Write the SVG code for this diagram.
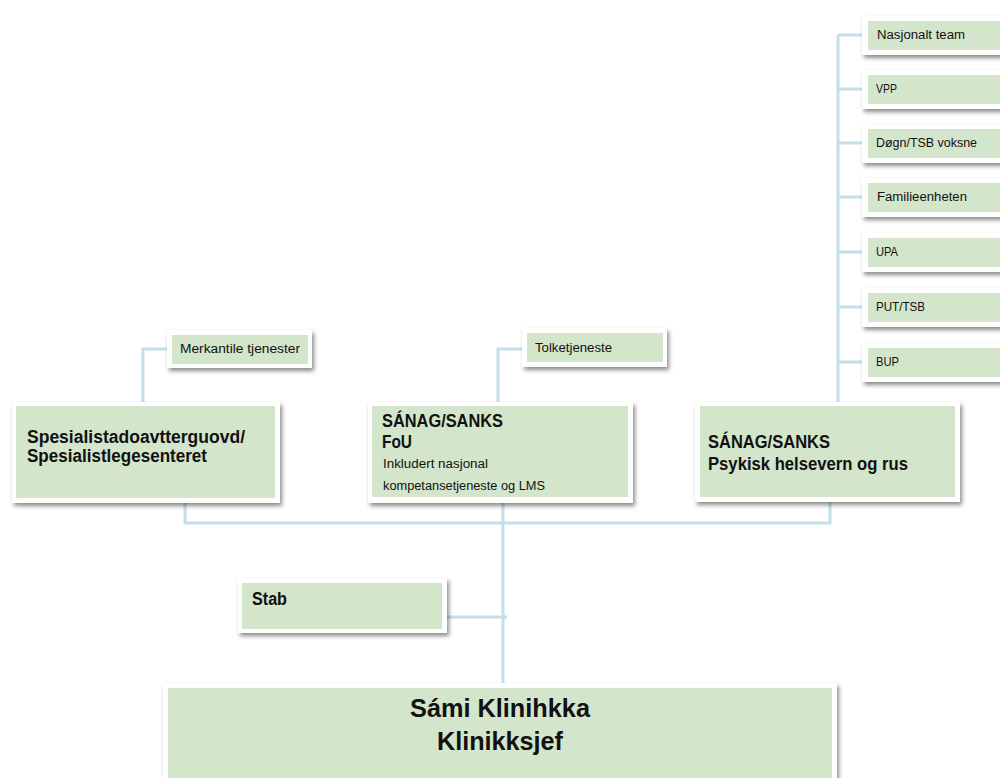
<svg xmlns="http://www.w3.org/2000/svg" width="1000" height="778" viewBox="0 0 1000 778">
<defs>
<filter id="sh" x="-10%" y="-20%" width="130%" height="150%">
<feDropShadow dx="2" dy="3" stdDeviation="2" flood-color="#000" flood-opacity="0.45"/>
</filter>
<style>
.o{fill:#fff;filter:url(#sh)}
.g{fill:#d3e5cb}
.c{stroke:#c3e0ea;stroke-width:3;fill:none}
text{font-family:"Liberation Sans",Arial,sans-serif;fill:#111}
.s{font-size:12.5px}
.b{font-size:17.5px;font-weight:bold}
.t{font-size:26px;font-weight:bold;text-anchor:middle}
</style>
</defs>
<rect width="1000" height="778" fill="#fff"/>
<g id="connectors">
<path class="c" d="M838 35 V402 M838 35 H862 M838 89 H862 M838 143 H862 M838 197 H862 M838 252 H862 M838 307 H862 M838 362 H862"/>
<path class="c" d="M143 402 V349 H167"/>
<path class="c" d="M498 402 V349 H522"/>
<path class="c" d="M185 503 V523 H830 V502 M503 503 V685 M447 617 H507"/>
</g>
<g id="n-nasjonalt"><rect class="o" x="862" y="16" width="145" height="39"/><rect class="g" x="868" y="21" width="140" height="29"/><text class="s" x="877" y="39" textLength="88" lengthAdjust="spacingAndGlyphs">Nasjonalt team</text></g>
<g id="n-vpp"><rect class="o" x="862" y="70" width="145" height="39"/><rect class="g" x="868" y="75" width="140" height="29"/><text class="s" x="876" y="93" textLength="21" lengthAdjust="spacingAndGlyphs">VPP</text></g>
<g id="n-dogn"><rect class="o" x="862" y="124" width="145" height="39"/><rect class="g" x="868" y="129" width="140" height="29"/><text class="s" x="876" y="147" textLength="101" lengthAdjust="spacingAndGlyphs">Døgn/TSB voksne</text></g>
<g id="n-familie"><rect class="o" x="862" y="178" width="145" height="39"/><rect class="g" x="868" y="183" width="140" height="29"/><text class="s" x="877" y="201" textLength="90" lengthAdjust="spacingAndGlyphs">Familieenheten</text></g>
<g id="n-upa"><rect class="o" x="862" y="233" width="145" height="39"/><rect class="g" x="868" y="238" width="140" height="29"/><text class="s" x="876" y="256" textLength="22" lengthAdjust="spacingAndGlyphs">UPA</text></g>
<g id="n-put"><rect class="o" x="862" y="288" width="145" height="39"/><rect class="g" x="868" y="293" width="140" height="29"/><text class="s" x="876" y="311" textLength="49" lengthAdjust="spacingAndGlyphs">PUT/TSB</text></g>
<g id="n-bup"><rect class="o" x="862" y="343" width="145" height="39"/><rect class="g" x="868" y="348" width="140" height="29"/><text class="s" x="876" y="366" textLength="23" lengthAdjust="spacingAndGlyphs">BUP</text></g>
<g id="n-merkantile"><rect class="o" x="167" y="330" width="145" height="38"/><rect class="g" x="172" y="335" width="136" height="29"/><text class="s" x="180" y="353" textLength="120" lengthAdjust="spacingAndGlyphs">Merkantile tjenester</text></g>
<g id="n-tolk"><rect class="o" x="522" y="328" width="145" height="39"/><rect class="g" x="527" y="333" width="136" height="29"/><text class="s" x="535" y="352" textLength="77" lengthAdjust="spacingAndGlyphs">Tolketjeneste</text></g>
<g id="n-spes"><rect class="o" x="12" y="402" width="268" height="101"/><rect class="g" x="16" y="406" width="259" height="92"/><text class="b" x="27" y="443" textLength="218" lengthAdjust="spacingAndGlyphs">Spesialistadoavtterguovd/</text><text class="b" x="27" y="462" textLength="180" lengthAdjust="spacingAndGlyphs">Spesialistlegesenteret</text></g>
<g id="n-fou"><rect class="o" x="368" y="402" width="265" height="101"/><rect class="g" x="372" y="406" width="256" height="91"/><text class="b" x="382" y="427" textLength="121" lengthAdjust="spacingAndGlyphs">SÁNAG/SANKS</text><text class="b" x="382" y="448" textLength="30" lengthAdjust="spacingAndGlyphs">FoU</text><text class="s" x="383" y="468" textLength="105" lengthAdjust="spacingAndGlyphs">Inkludert nasjonal</text><text class="s" x="383" y="490" textLength="162" lengthAdjust="spacingAndGlyphs">kompetansetjeneste og LMS</text></g>
<g id="n-psyk"><rect class="o" x="695" y="402" width="265" height="100"/><rect class="g" x="700" y="406" width="255" height="91"/><text class="b" x="708" y="448" textLength="122" lengthAdjust="spacingAndGlyphs">SÁNAG/SANKS</text><text class="b" x="708" y="470" textLength="200" lengthAdjust="spacingAndGlyphs">Psykisk helsevern og rus</text></g>
<g id="n-stab"><rect class="o" x="238" y="578" width="209" height="55"/><rect class="g" x="242" y="583" width="200" height="46"/><text class="b" x="252" y="605" textLength="35" lengthAdjust="spacingAndGlyphs">Stab</text></g>
<g id="n-sami"><rect class="o" x="163" y="683" width="674" height="110"/><rect class="g" x="168" y="688" width="664" height="100"/><text class="t" x="500" y="717" textLength="180" lengthAdjust="spacingAndGlyphs">Sámi Klinihkka</text><text class="t" x="500" y="750" textLength="126" lengthAdjust="spacingAndGlyphs">Klinikksjef</text></g>
</svg>
